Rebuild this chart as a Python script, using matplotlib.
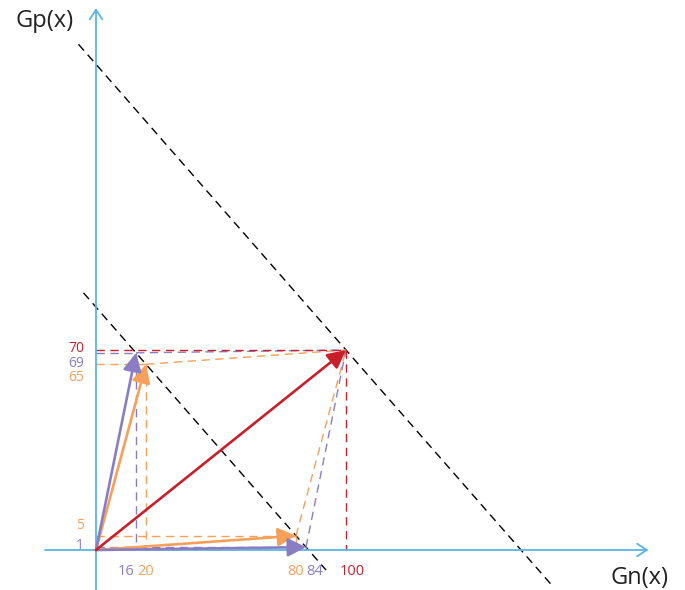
import numpy as np
import matplotlib.pyplot as plt

plt.rcParams['font.family'] = ['Open Sans', 'DejaVu Sans']

# vektori: zbir (100, 70), razlozen na dva nacina
total = (100, 70)
orange_gn = [20, 80]
orange_gp = [65, 5]
purple_gn = [16, 84]
purple_gp = [69, 1]

# linije konstantnog zbira Gn + Gp
diag_sums = [85, 170]
diag_x = [(-5, 92), (-7, 182)]

# pomeraji oznaka (u tackama) da se ne preklapaju
y_off = {70: 1.2, 69: -7.6, 65: -9.8, 5: 7, 1: 1.5}
x_off = {16: -7, 20: 0, 80: 0, 84: 6.5, 100: 4.5}

axis_c = '#5ab4e6'
red = '#c8202b'
orange = '#f6a05a'
purple = '#8b7dc2'

fig = plt.figure(figsize=(6.85, 5.9), dpi=100)
ax = fig.add_axes([0, 0, 1, 1])
ax.set_xlim(-38.4, 235.6)
ax.set_ylim(-14.0, 192.5)
ax.axis('off')

# ose sa strelicama
ax_arrow = dict(arrowstyle='->,head_length=0.7,head_width=0.45', color=axis_c,
                lw=1.3, shrinkA=0, shrinkB=0, mutation_scale=10)
ax.annotate('', xy=(221, 0), xytext=(-20.4, 0), arrowprops=ax_arrow)
ax.annotate('', xy=(0, 189.7), xytext=(0, -14.0), arrowprops=ax_arrow)

dash = (0, (6, 4))

# crne dijagonale
for s, (x0, x1) in zip(diag_sums, diag_x):
    ax.plot([x0, x1], [s - x0, s - x1], color='black', lw=1, ls=dash)

# isprekidane pomocne linije
def helpers(gn, gp, c):
    for gx, gy in zip(gn, gp):
        ax.plot([0, gx], [gy, gy], color=c, lw=1, ls=dash)
        ax.plot([gx, gx], [gy, 0], color=c, lw=1, ls=dash)
        ax.plot([gx, total[0]], [gy, total[1]], color=c, lw=1, ls=dash)

helpers(orange_gn, orange_gp, orange)
helpers(purple_gn, purple_gp, purple)
ax.plot([0, total[0]], [total[1], total[1]], color=red, lw=1, ls=dash)
ax.plot([total[0], total[0]], [total[1], 0], color=red, lw=1, ls=dash)

# vektori
def vec(x, y, c):
    ax.annotate('', xy=(x, y), xytext=(0, 0),
                arrowprops=dict(arrowstyle='-|>,head_length=0.55,head_width=0.28',
                                color=c, lw=1.9, shrinkA=0, shrinkB=0,
                                mutation_scale=20))

for gx, gy in zip(orange_gn, orange_gp):
    vec(gx, gy, orange)
for gx, gy in zip(purple_gn, purple_gp):
    vec(gx, gy, purple)
vec(total[0], total[1], red)

# oznake na osama
ylab = [(total[1], red)] + list(zip(purple_gp, [purple] * 2)) + list(zip(orange_gp, [orange] * 2))
for v, c in ylab:
    ax.annotate(str(v), xy=(0, v), xytext=(-8.5, y_off[v]), textcoords='offset points',
                color=c, fontsize=10, ha='right', va='center')
xlab = [(total[0], red)] + list(zip(purple_gn, [purple] * 2)) + list(zip(orange_gn, [orange] * 2))
for v, c in xlab:
    ax.annotate(str(v), xy=(v, 0), xytext=(x_off[v], -15.5), textcoords='offset points',
                color=c, fontsize=10.5, ha='center', va='center')

ax.text(-20.4, 185.2, 'Gp(x)', fontsize=17, color='#222222', ha='center', va='center')
ax.text(217.6, -9.8, 'Gn(x)', fontsize=17, color='#222222', ha='center', va='center')

fig.savefig('out.png', dpi=100)
